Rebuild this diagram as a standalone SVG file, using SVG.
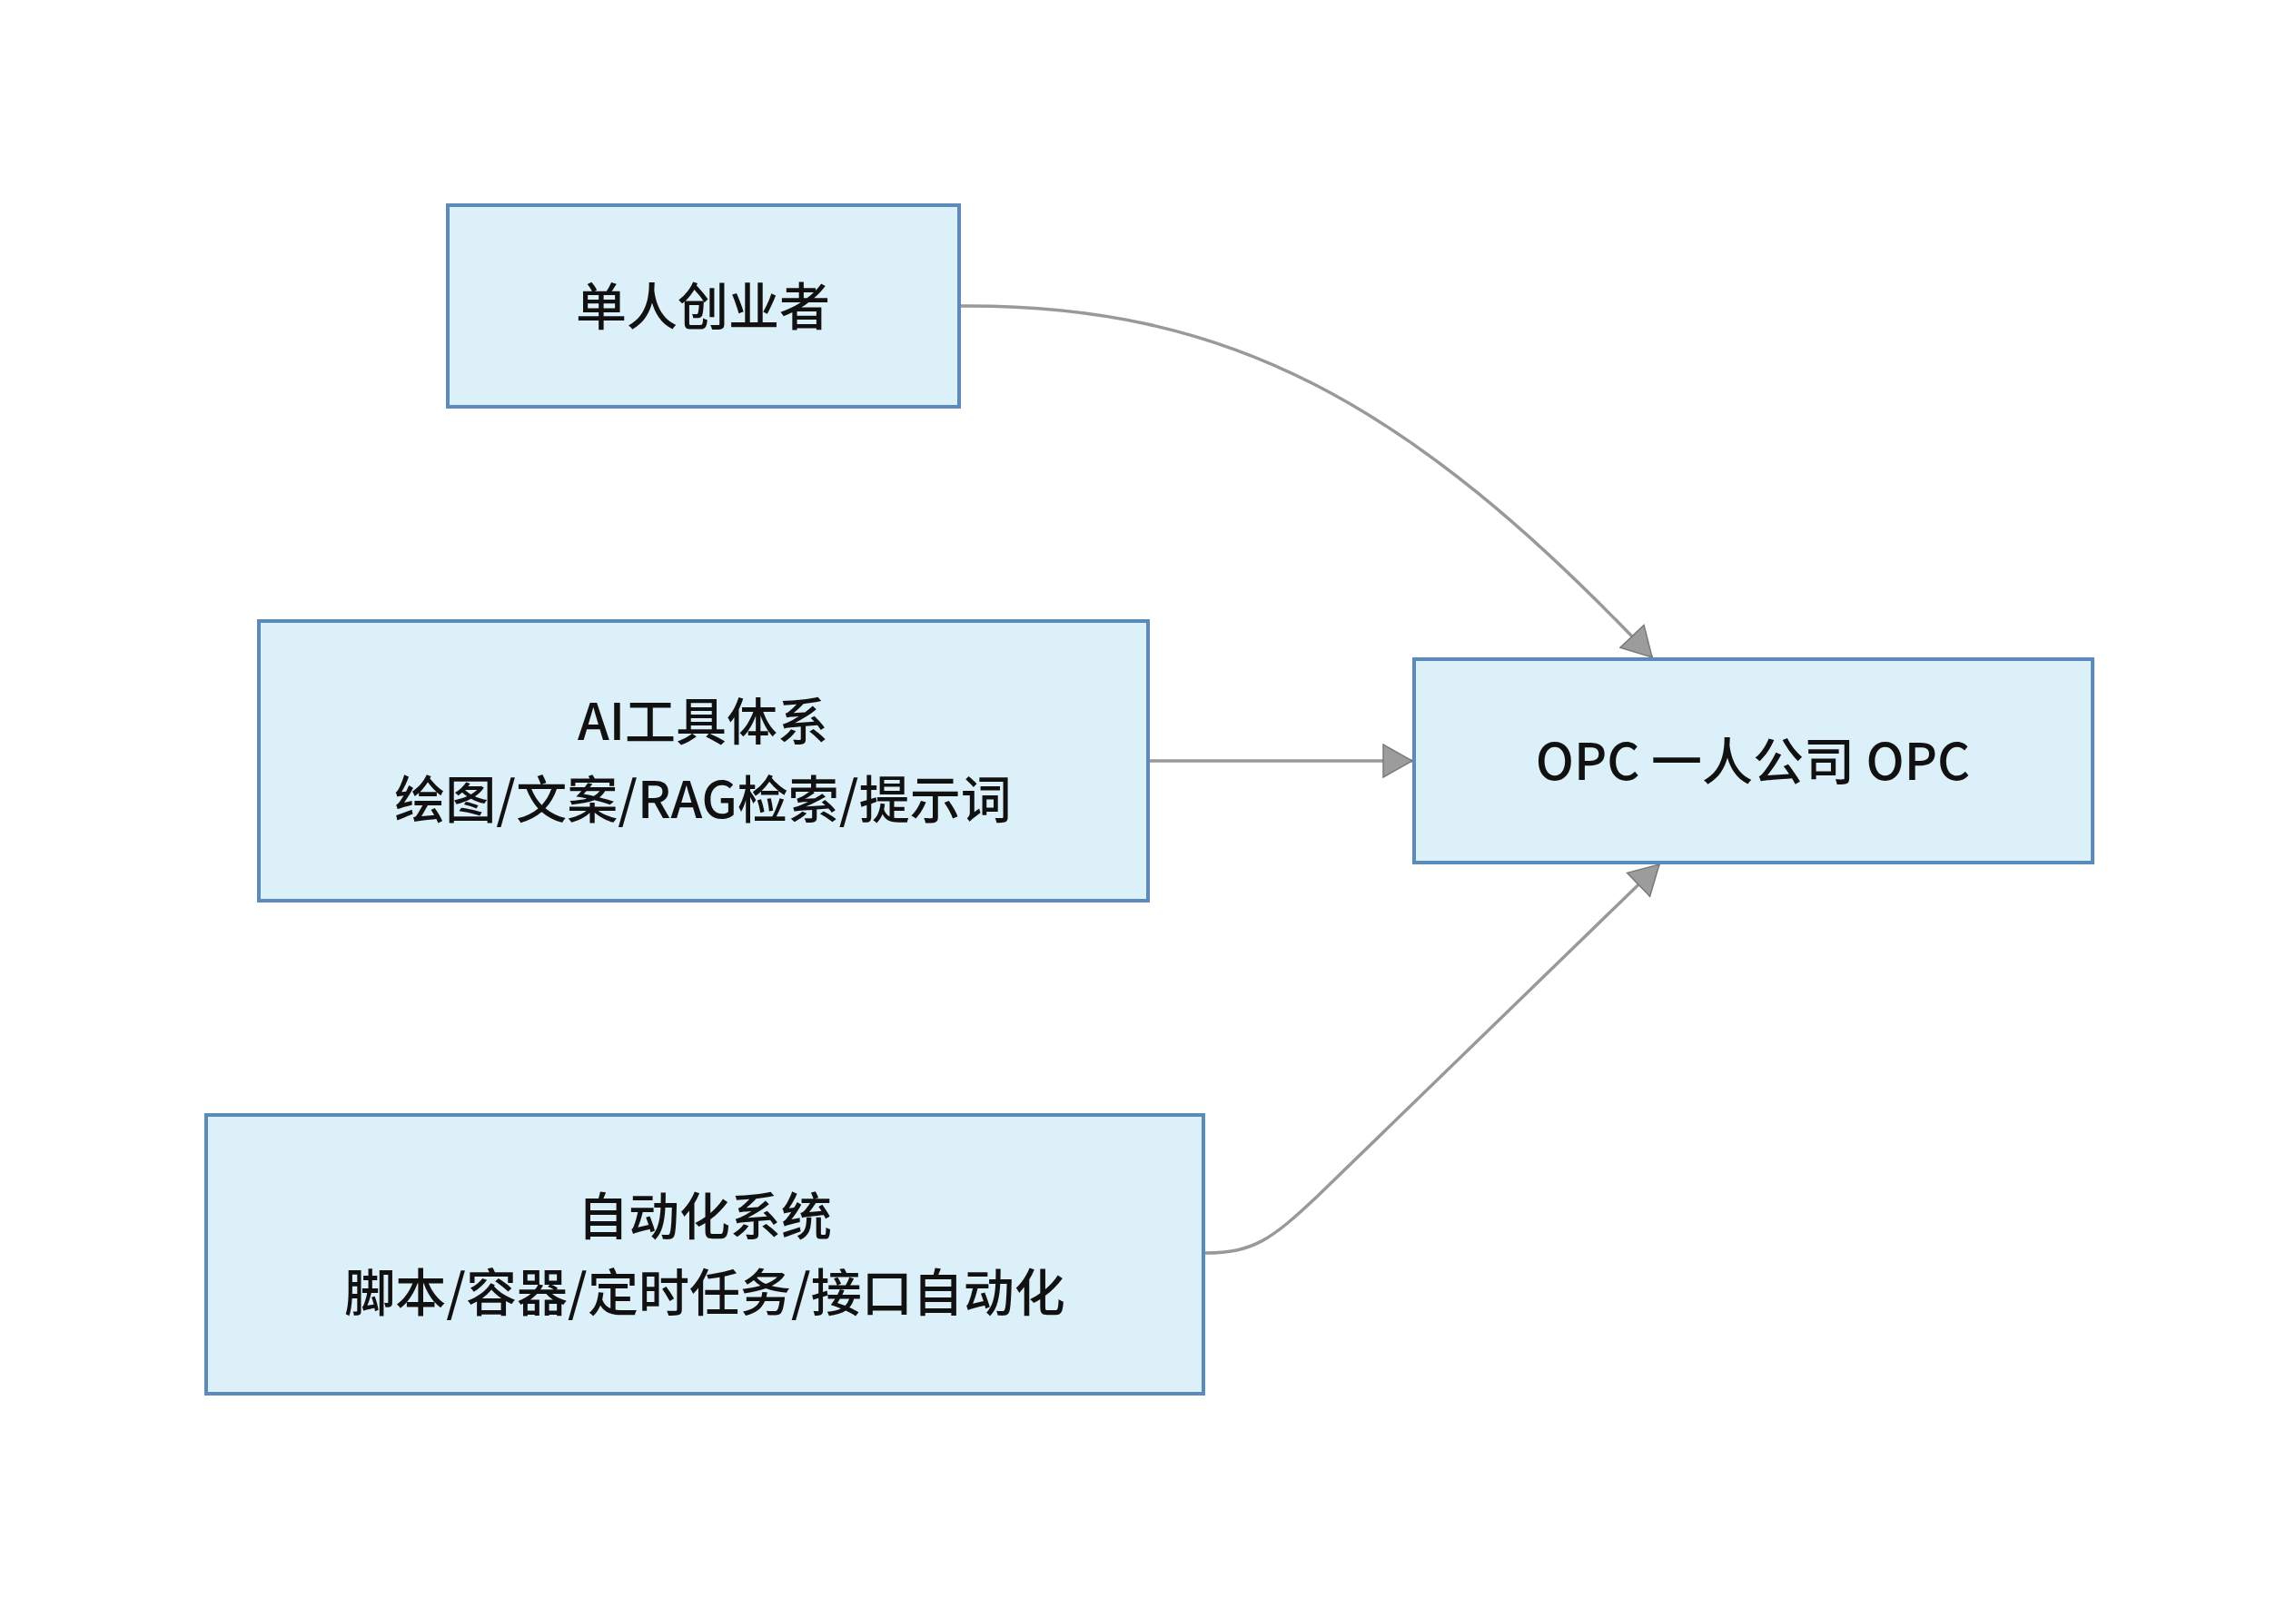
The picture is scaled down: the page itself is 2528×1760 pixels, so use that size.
<svg xmlns="http://www.w3.org/2000/svg" width="2528" height="1760" viewBox="0 0 2528 1760">
  <style>
    .box { fill: #dcf0fa; stroke: #5b8bbb; stroke-width: 4; }
    .lbl { font-family: "Noto Sans CJK SC", "Noto Sans", sans-serif; font-size: 56px; font-weight: 500; fill: #111111; text-anchor: middle; dominant-baseline: central; }
    .edge { fill: none; stroke: #999999; stroke-width: 3.5; }
  </style>
  <defs>
    <marker id="arrow" viewBox="0 0 34 38" refX="33" refY="19" markerWidth="34" markerHeight="38" markerUnits="userSpaceOnUse" orient="auto">
      <path d="M1,1 L33,19 L1,37 Z" fill="#9c9c9c" stroke="#7a7a7a" stroke-width="1.5"/>
    </marker>
  </defs>
  <rect width="2528" height="1760" fill="#ffffff"/>

  <g id="connectors">
    <path class="edge" d="M1058,337 C1350,335 1550,440 1819,724" marker-end="url(#arrow)"/>
    <path class="edge" d="M1266,838 L1555,838" marker-end="url(#arrow)"/>
    <path class="edge" d="M1327,1380 C1380,1380 1400,1365 1450,1318 L1827,952" marker-end="url(#arrow)"/>
  </g>

  <g id="node-founder">
    <rect class="box" x="493" y="226" width="563" height="222"/>
    <text class="lbl" x="774" y="333">单人创业者</text>
  </g>

  <g id="node-ai">
    <rect class="box" x="285" y="684" width="979" height="308"/>
    <text class="lbl" x="774" y="790">AI工具体系</text>
    <text class="lbl" x="774" y="876">绘图/文案/RAG检索/提示词</text>
  </g>

  <g id="node-auto">
    <rect class="box" x="227" y="1228" width="1098" height="307"/>
    <text class="lbl" x="776" y="1335">自动化系统</text>
    <text class="lbl" x="776" y="1419">脚本/容器/定时任务/接口自动化</text>
  </g>

  <g id="node-opc">
    <rect class="box" x="1557" y="726" width="747" height="224"/>
    <text class="lbl" x="1930" y="834">OPC 一人公司 OPC</text>
  </g>
</svg>
